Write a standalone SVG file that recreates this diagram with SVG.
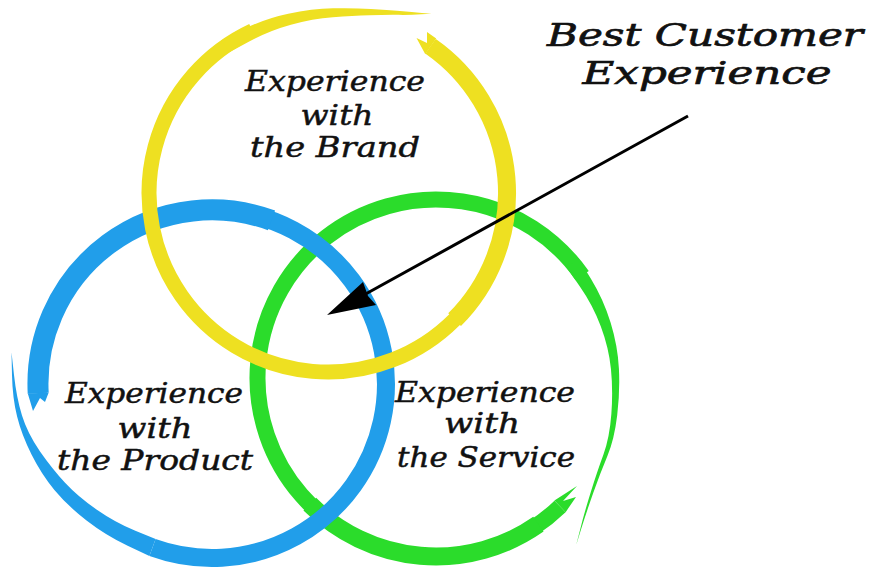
<svg xmlns="http://www.w3.org/2000/svg" width="871" height="571" viewBox="0 0 871 571">
<style>
.ring{fill:none;stroke-linecap:butt}
.g{stroke:#2bdc2b}.gf{fill:#2bdc2b}
.b{stroke:#219eea}.bf{fill:#219eea}
.y{stroke:#eee021}.yf{fill:#eee021}
.lbl{font-family:"DejaVu Serif","Liberation Serif",serif;font-style:italic;font-size:28px;fill:#111;stroke:#111;stroke-width:0.5;text-anchor:middle}
.ttl{font-size:32px;stroke-width:0.7}
</style>
<rect width="871" height="571" fill="#fff"/>
<g id="node-service">
<path class="ring g" stroke-width="16" d="M560,506.4 A178.5 178.5 0 1 1 582.2,275.6"/>
<path class="ring g" stroke-width="18" d="M538.4,524.2 A178.5 178.5 0 0 1 309.8,504.2"/>
<path class="gf" d="M554.4,500.6 L577,486 L563,501 L576,497 L565.6,512.2 Z"/>
<path class="gf" d="M578.5,258.4 L591.05,279.05 Q603.6,299.7 610.65,322.8 Q617.7,345.9 618.9,368.4 Q620.1,390.9 617.2,415.2 Q614.3,439.5 607.3,456.2 Q600.3,472.9 593.2,493 Q586.1,513.1 581.15,529.05 L576.2,545 L580.4,528.4 Q584.6,511.8 590.95,491.45 Q597.3,471.1 603.45,454.45 Q609.6,437.8 611.35,414.1 Q613.1,390.4 610.95,368.95 Q608.8,347.5 600.75,326.15 Q592.7,304.8 579.85,286.4 L567,268 Z"/>
<text class="lbl" x="485" y="402" textLength="180" lengthAdjust="spacingAndGlyphs">Experience</text>
<text class="lbl" x="482" y="433" textLength="76" lengthAdjust="spacingAndGlyphs">with</text>
<text class="lbl" x="486" y="467" textLength="178" lengthAdjust="spacingAndGlyphs">the Service</text>
</g>
<g id="node-product">
<path class="ring b" stroke-width="18" d="M152.5,547.5 A174 174 0 1 0 38.2,393.1"/>
<path class="ring b" stroke-width="21" d="M271.5,220.4 A174 174 0 0 0 38.2,393.1"/>
<path class="bf" d="M27.8,393.6 L33,411 L40,398 L45,402 L48.7,392.6 Z"/>
<path class="bf" d="M149.4,556 L127.65,545.75 Q105.9,535.5 86.55,520.5 Q67.2,505.5 54.4,490 Q41.6,474.5 31.65,454.75 Q21.7,435 17.1,416.5 Q12.5,398 12,375.15 L11.5,352.3 L14,375 Q16.5,397.7 22,415.6 Q27.5,433.5 39.85,451.2 Q52.2,468.9 65.05,482.7 Q77.9,496.5 96.5,509.45 Q115.1,522.4 135.35,530.75 L155.6,539.1 Z"/>
<text class="lbl" x="154" y="403" textLength="178" lengthAdjust="spacingAndGlyphs">Experience</text>
<text class="lbl" x="155" y="438" textLength="75" lengthAdjust="spacingAndGlyphs">with</text>
<text class="lbl" x="155" y="470" textLength="196" lengthAdjust="spacingAndGlyphs">the Product</text>
</g>
<g id="node-brand">
<path class="ring y" stroke-width="15" d="M430.7,46.4 A179 179 0 1 1 252.4,30.8"/>
<path class="ring y" stroke-width="18" d="M430.7,46.4 A179 179 0 0 1 454.6,319.6"/>
<path class="yf" d="M425.3,54.2 L416.5,38 L427,43 L427,32 L436.2,38.6 Z"/>
<path class="yf" d="M221.1,40.5 L242.85,29.55 Q264.6,18.6 288.25,13.65 Q311.9,8.7 332.95,8.3 Q354,7.9 370.75,8.9 Q387.5,9.9 399.95,11.1 Q412.4,12.3 421.95,13 L431.5,13.7 L421.3,14.35 Q411.1,15 398.5,14.85 Q385.9,14.7 369.4,15.25 Q352.9,15.8 332.85,17.25 Q312.8,18.7 290.9,24.75 Q269,30.8 249.2,41.55 L229.4,52.3 Z"/>
<text class="lbl" x="335" y="91" textLength="180" lengthAdjust="spacingAndGlyphs">Experience</text>
<text class="lbl" x="337" y="125" textLength="73" lengthAdjust="spacingAndGlyphs">with</text>
<text class="lbl" x="335" y="157" textLength="170" lengthAdjust="spacingAndGlyphs">the Brand</text>
</g>
<g id="node-best">
<text class="lbl ttl" x="705" y="46" textLength="316" lengthAdjust="spacingAndGlyphs">Best Customer</text>
<text class="lbl ttl" x="707" y="84" textLength="249" lengthAdjust="spacingAndGlyphs">Experience</text>
</g>
<g id="connectors">
<line x1="688" y1="116" x2="362" y2="296" stroke="#000" stroke-width="3"/>
<path d="M327,315 L363,282 L368,296 L376,305 Z" fill="#000"/>
</g>
</svg>
